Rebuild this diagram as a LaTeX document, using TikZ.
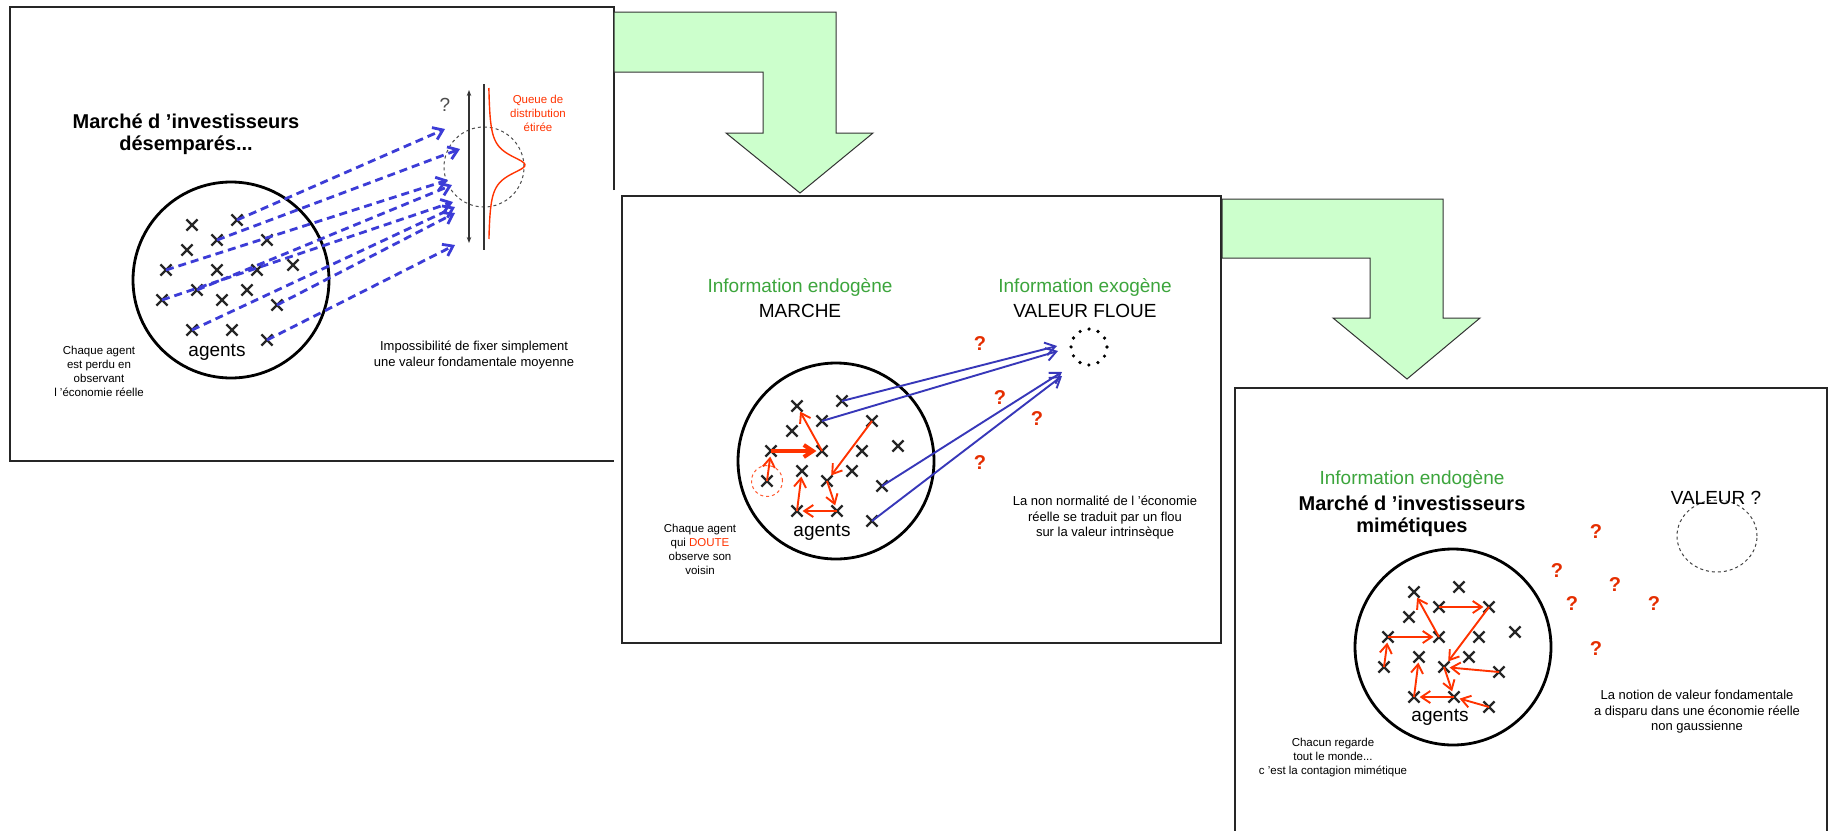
\documentclass[tikz,border=0pt]{standalone}
\usepackage{fontspec}
\setmainfont{Liberation Sans}
\usetikzlibrary{arrows.meta,shapes.misc,shapes.geometric,positioning}

\definecolor{pale}{RGB}{204,255,204}
\definecolor{leaf}{RGB}{60,165,60}
\definecolor{fire}{RGB}{255,51,0}
\definecolor{ink}{RGB}{60,60,215}
\definecolor{navy}{RGB}{55,55,185}

\tikzset{
  panel/.style={draw=black!85,line width=1.4pt},
  bend arrow/.style={draw=black!80,fill=pale,line width=1pt},
  crowd/.style={circle,draw,line width=2.8pt,minimum size=196pt,inner sep=0pt},
  agent/.style={cross out,draw=black!85,line width=2.2pt,minimum size=9pt,inner sep=0pt},
  look/.style={-{Straight Barb[length=9pt,width=12pt]},fire,line width=1.9pt},
  guess/.style={-{Straight Barb[length=9pt,width=13pt]},ink,line width=2.8pt,dash pattern=on 8pt off 5pt},
  fact/.style={-{Straight Barb[length=10pt,width=13pt]},navy,line width=1.9pt},
  title/.style={font=\fontsize{20}{24}\selectfont\bfseries,align=center},
  big/.style={font=\fontsize{19}{24}\selectfont,align=center},
  note/.style={font=\fontsize{11.5}{14}\selectfont,align=center},
  wide note/.style={font=\fontsize{13}{15.5}\selectfont,align=center},
  doubt/.style={font=\fontsize{20}{20}\selectfont\bfseries,text=fire!90!black},
}

\newcommand\agentcloud[2]{%
  \foreach \n/\dx/\dy in {1/-39/-55,2/6/-60,3/-14/-40,4/36/-40,5/-44/-30,6/-65/-10,
      7/-14/-10,8/26/-10,9/62/-15,10/-34/10,11/16/10,12/-69/20,13/-9/20,14/46/25,
      15/-39/50,16/1/50,17/36/60}
    \node[agent] (#1\n) at ([shift={(\dx,\dy)}]#2) {};}

\begin{document}
\begin{tikzpicture}[x=1pt,y=-1pt,node distance=24pt]
  \path[fill=white,use as bounding box] (0,0) rectangle (1833,830);

  % panel 1
  \draw[panel] (614,190) |- (10,7) -- (10,461) -- (614,461);
  \node[title] (des1) at (186,121) {Marché d ’investisseurs};
  \node[title] (des2) [below of=des1] {désemparés...};
  \node[crowd] (m1) at (231,280) {};
  \agentcloud{a}{m1}
  \node[big] (ag1) at (217,352) {agents};
  \node[note] (n1) at (99,371) {Chaque agent\\est perdu en\\observant\\l ’économie réelle};
  \node[wide note] (n2) at (474,355) {Impossibilité de fixer simplement\\une valeur fondamentale moyenne};
  \node[circle,draw=black!70,dashed,line width=1pt,minimum size=80pt,inner sep=0pt] (blur) at (484,167) {};
  \coordinate (up) at (469,90);
  \coordinate (down) at (469,243);
  \draw[{Stealth[length=6pt]}-{Stealth[length=6pt]},black!80,line width=1.3pt] (up) -- (down);
  \draw[black!80,line width=1.3pt] (484,84) -- (484,250);
  \draw[fire,line width=1.4pt] plot[domain=88:239,samples=90,smooth,variable=\t]
    ({488+37/(1+((\t-165)/12)^2)},\t);
  \node[big,text=black!70] (q0) at (445,105) {?};
  \node[note,text=fire] (tail) at (538,113) {Queue de\\distribution\\étirée};
  \foreach \s/\x/\y in {2/445/129,3/460/149,6/448/180,10/452/185,12/453/202,15/455/207,14/455/213,17/455/245} {
    \coordinate (v\s) at (\x,\y);
    \draw[guess] (a\s.center) -- (v\s);
  }

  % arrow 1
  \draw[bend arrow] (614,12) -| (836,133) -- (873,133) -- (800,193) -- (726,133) -- (763,133) |- (614,72) -- cycle;

  % panel 2
  \draw[panel,fill=white] (622,196) rectangle (1221,643);
  \node[big,text=leaf] (endo2) at (800,287) {Information endogène};
  \node[big] (mkt) [below of=endo2] {MARCHE};
  \node[big,text=leaf] (exo) at (1085,287) {Information exogène};
  \node[big] (floue) [below of=exo] {VALEUR FLOUE};
  \node[circle,draw,line width=3.6pt,dash pattern=on 0pt off 9.4pt,line cap=round,minimum size=36pt,inner sep=0pt] (val2) at (1089,347) {};
  \node[crowd] (m2) at (836,461) {};
  \agentcloud{b}{m2}
  \node[big] (ag2) at (822,532) {agents};
  \node[circle,draw=fire!80,dashed,line width=1pt,minimum size=31pt,inner sep=0pt] (lost) at (b12) {};
  \draw[look,line width=4pt] (b6.center) -- (b7);
  \foreach \s/\e in {7/1,4/13,13/16,16/15,15/10,12/6}
    \draw[look] (b\s.center) -- (b\e);
  \foreach \s/\x/\y in {2/1057/346,3/1058/351,14/1062/372,17/1062/376} {
    \coordinate (w\s) at (\x,\y);
    \draw[fact] (b\s.center) -- (w\s);
  }
  \foreach \x/\y [count=\i] in {980/344,1000/398,1037/419,980/463}
    \node[doubt] (qa\i) at (\x,\y) {?};
  \node[note] (n3) at (700,549) {Chaque agent\\qui \textcolor{fire}{DOUTE}\\observe son\\voisin};
  \node[wide note] (n4) at (1105,518) {La non normalité de l ’économie\\réelle se traduit par un flou\\sur la valeur intrinsèque};

  % arrow 2
  \draw[bend arrow] (1222,199) -| (1443,318) -- (1480,318) -- (1407,379) -- (1333,318) -- (1370,318) |- (1222,258) -- cycle;

  % panel 3
  \draw[panel] (1235,831) |- (1827,388) -- (1827,831);
  \node[big,text=leaf] (endo3) at (1412,479) {Information endogène};
  \node[title] (mim1) [below of=endo3] {Marché d ’investisseurs};
  \node[title] (mim2) [below of=mim1] {mimétiques};
  \node[ellipse,draw=black!75,dashed,line width=1pt,minimum width=80pt,minimum height=72pt,inner sep=0pt] (val3) at (1717,536) {};
  \node[big] (valq) at (1716,498) {VALEUR ?};
  \node[crowd] (m3) at (1453,647) {};
  \agentcloud{c}{m3}
  \node[big] (ag3) at (1440,717) {agents};
  \foreach \s/\e in {3/4,7/1,6/7,12/6,4/13,14/13,13/16,16/15,15/10,17/16}
    \draw[look] (c\s.center) -- (c\e);
  \foreach \x/\y [count=\i] in {1596/532,1557/571,1615/585,1572/604,1654/604,1596/649}
    \node[doubt] (qb\i) at (\x,\y) {?};
  \node[wide note] (n5) at (1697,712) {La notion de valeur fondamentale\\a disparu dans une économie réelle\\non gaussienne};
  \node[note] (n6) at (1333,758) {Chacun regarde\\tout le monde...\\c ’est la contagion mimétique};
\end{tikzpicture}
\end{document}
